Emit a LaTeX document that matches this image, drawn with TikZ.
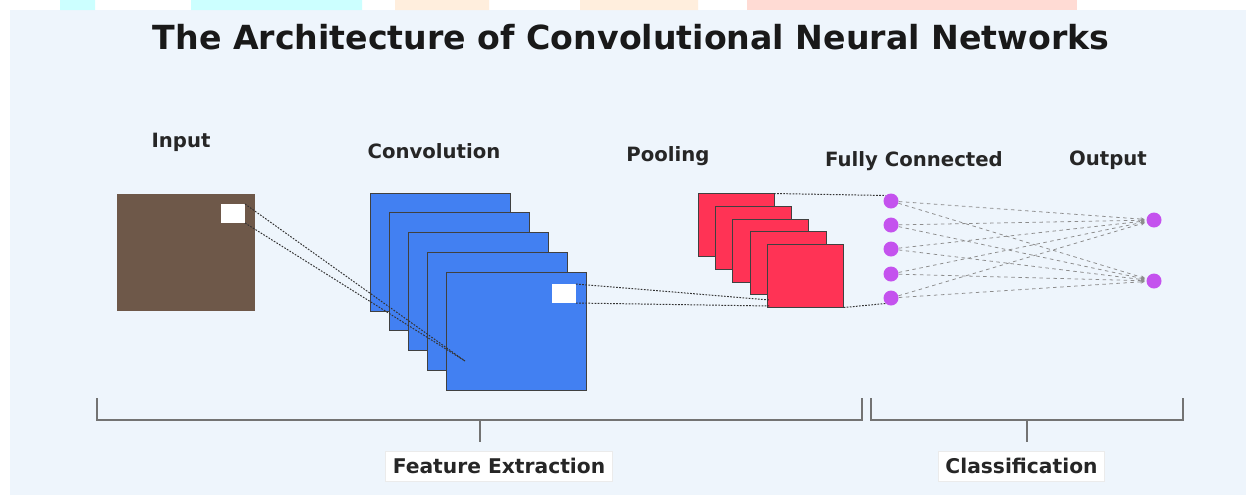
\documentclass[tikz,border=0pt]{standalone}
\usepackage{fontspec}
\setmainfont{DejaVu Sans}
\usetikzlibrary{arrows.meta}

\definecolor{bgblue}{RGB}{238,245,252}
\definecolor{inbrown}{RGB}{110,88,73}
\definecolor{convblue}{RGB}{66,128,242}
\definecolor{poolred}{RGB}{255,51,85}
\definecolor{fcpurple}{RGB}{196,82,238}
\definecolor{wmcyan}{RGB}{204,255,255}
\definecolor{wmorange}{RGB}{255,238,221}
\definecolor{wmred}{RGB}{255,219,212}

\begin{document}
\begin{tikzpicture}[x=0.025cm, y=-0.025cm,
        fmap/.style={shape=rectangle, inner sep=0pt, outer sep=0pt, draw=black!75, line width=0.5pt},
        inmap/.style={fmap, draw=none, fill=inbrown, minimum width=138*0.025cm, minimum height=117*0.025cm},
        convmap/.style={fmap, fill=convblue, minimum width=140*0.025cm, minimum height=118*0.025cm},
        poolmap/.style={fmap, fill=poolred, minimum width=76*0.025cm, minimum height=63*0.025cm},
        patch/.style={fill=white, inner sep=0pt, outer sep=0pt, minimum width=24*0.025cm, minimum height=19*0.025cm},
        neuron/.style={shape=circle, fill=fcpurple, inner sep=0pt, minimum size=15*0.025cm},
        layer/.style={font=\bfseries\fontsize{14}{16}\selectfont, text=black!85},
        groupbox/.style={fill=white, draw=black!8, inner xsep=5pt, minimum height=30*0.025cm,
            font=\bfseries\fontsize{14.4}{17}\selectfont, text=black!85},
        link/.style={black!80, line width=0.7pt, dash pattern=on 1.2pt off 1pt},
        fcline/.style={black!45, line width=0.55pt, dash pattern=on 2.5pt off 2.5pt,
            -{Stealth[length=3pt,width=2.5pt]}, shorten >=1pt},
        bracket/.style={black!55, line width=0.8pt}
    ]
    % page and watermark strip
    \fill[white] (0,0) rectangle (1246,495);
    \fill[bgblue] (10,10) rectangle (1246,495);
    \fill[wmcyan] (60,0) rectangle (95,10) (191,0) rectangle (362,10);
    \fill[wmorange] (395,0) rectangle (489,10) (580,0) rectangle (698,10);
    \fill[wmred] (747,0) rectangle (1077,10);

    \node[font=\bfseries\fontsize{23.6}{28}\selectfont, text=black!90] (title) at (631,37)
        {The Architecture of Convolutional Neural Networks};

    \node[inmap] (in) at (186,252.5) {};
    \node[patch] (inpatch) at (233,213.5) {};

    \foreach \i in {1,...,5}
        \node[convmap] (conv\i) at ({440+19*(\i-1)},{252+19.75*(\i-1)}) {};
    \node[patch] (convpatch) at (564,293.5) {};

    \foreach \i in {1,...,5}
        \node[poolmap] (pool\i) at ({736+17.4*(\i-1)},{225+12.75*(\i-1)}) {};

    \foreach \n/\y in {1/201,2/225,3/249,4/274,5/298}
        \node[neuron] (fc\n) at (891,\y) {};
    \foreach \n/\y in {1/220,2/281}
        \node[neuron] (out\n) at (1154,\y) {};

    \node[layer] (inlabel)   at (181,142) {Input};
    \node[layer] (convlabel) at (434,151) {Convolution};
    \node[layer] (poollabel) at (668,156) {Pooling};
    \node[layer] (fclabel)   at (914,161) {Fully Connected};
    \node[layer] (outlabel)  at (1108,160) {Output};

    % receptive fields
    \coordinate (focus) at (465,361);
    \coordinate (pooltop) at (770,300);
    \coordinate (poolbot) at (770,306);
    \draw[link] (inpatch.north east) -- (focus);
    \draw[link] (inpatch.south east) -- (focus);
    \draw[link] (convpatch.north east) -- (pooltop);
    \draw[link] (convpatch.south east) -- (poolbot);
    \draw[link] (pool1.north east) -- (fc1.north west);
    \draw[link] (pool5.south east) -- (fc5.south west);

    \foreach \i in {1,...,5}
        \foreach \j in {1,2}
            \draw[fcline] (fc\i) -- (out\j);

    % groups
    \draw[bracket] (97,398) -- (97,420) -- (862,420) -- (862,398);
    \draw[bracket] (871,398) -- (871,420) -- (1183,420) -- (1183,398);
    \draw[bracket] (480,420) -- (480,442);
    \draw[bracket] (1027,420) -- (1027,442);

    \node[groupbox] (fe)  at (499,466) {Feature Extraction};
    \node[groupbox] (cls) at (1021.5,466) {Classification};
\end{tikzpicture}
\end{document}
